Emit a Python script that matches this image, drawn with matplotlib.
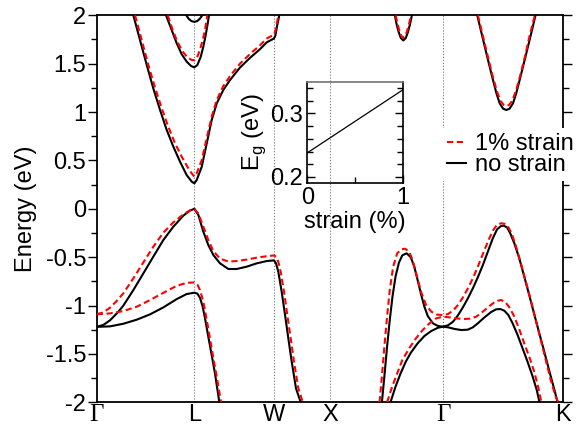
import matplotlib
matplotlib.use('Agg')
import matplotlib.pyplot as plt
from matplotlib.lines import Line2D
from matplotlib.ticker import MultipleLocator, FixedLocator

plt.rcParams['font.family'] = ['Liberation Sans', 'DejaVu Sans']
plt.rcParams['axes.unicode_minus'] = False
plt.rcParams['mathtext.fontset'] = 'custom'
plt.rcParams['mathtext.rm'] = 'Liberation Sans'

FS = 17

# high symmetry points along the path (units of 2pi/a)
kpt_pos = [0.0, 0.866, 1.573, 2.073, 3.073, 4.134]
kpt_labels = ['Γ', 'L', 'W', 'X', 'Γ', 'K']

yticks = [-2, -1.5, -1, -0.5, 0, 0.5, 1, 1.5, 2]
ytick_labels = ['-2', '-1.5', '-1', '-0.5', '0', '0.5', '1', '1.5', '2']

# ---- no strain (black) ----
# top valence band  G -> L -> W -> X
k_vb1 = [0.0, 0.059, 0.118, 0.192, 0.236, 0.325, 0.414, 0.502, 0.591, 0.680, 0.768, 0.827, 0.866,
         0.902, 0.946, 0.990, 1.035, 1.094, 1.168, 1.242, 1.331, 1.419, 1.508, 1.573,
         1.591, 1.611, 1.641, 1.671, 1.700, 1.730, 1.768, 1.810]
e_vb1 = [-1.22, -1.20, -1.153, -1.064, -1.001, -0.840, -0.667, -0.495, -0.323, -0.185, -0.071, -0.019, 0.0,
         -0.064, -0.237, -0.374, -0.478, -0.564, -0.622, -0.622, -0.598, -0.564, -0.540, -0.533,
         -0.564, -0.650, -0.857, -1.098, -1.339, -1.580, -1.856, -2.0]
# second valence band  G -> L -> down
k_vb2 = [0.0, 0.118, 0.236, 0.355, 0.473, 0.591, 0.710, 0.798, 0.866,
         0.893, 0.916, 0.940, 0.961, 0.990, 1.020, 1.049, 1.088]
e_vb2 = [-1.22, -1.215, -1.188, -1.146, -1.091, -1.019, -0.933, -0.881, -0.867,
         -0.877, -0.919, -1.011, -1.132, -1.322, -1.511, -1.700, -2.0]
# X - G - K valence bands
k_vb3 = [2.530, 2.552, 2.576, 2.600, 2.624, 2.651, 2.681, 2.711, 2.750, 2.787, 2.817, 2.847, 2.877,
         2.907, 2.937, 2.983, 3.028, 3.073, 3.117, 3.161, 3.205, 3.249, 3.293, 3.337, 3.381, 3.426,
         3.470, 3.514, 3.552, 3.587, 3.611, 3.640, 3.669, 3.705, 3.749, 3.793, 3.837, 3.881, 3.925,
         3.969, 4.013, 4.057, 4.089]
e_vb3 = [-2.0, -1.735, -1.425, -1.149, -0.908, -0.701, -0.557, -0.481, -0.460, -0.502, -0.598, -0.736,
         -0.881, -1.012, -1.108, -1.184, -1.211, -1.218, -1.204, -1.167, -1.101, -1.018, -0.925, -0.822,
         -0.708, -0.581, -0.443, -0.305, -0.212, -0.178, -0.174, -0.192, -0.254, -0.357, -0.512, -0.701,
         -0.891, -1.087, -1.280, -1.470, -1.666, -1.856, -2.0]
k_vb4 = [2.606, 2.651, 2.696, 2.742, 2.787, 2.847, 2.907, 2.968, 3.028, 3.073, 3.117, 3.176, 3.235,
         3.293, 3.337, 3.381, 3.440, 3.499, 3.543, 3.581, 3.616, 3.652, 3.690, 3.734, 3.778, 3.822,
         3.866, 3.904, 3.928]
e_vb4 = [-2.0, -1.838, -1.701, -1.580, -1.487, -1.391, -1.315, -1.263, -1.229, -1.218, -1.225, -1.242,
         -1.253, -1.249, -1.225, -1.184, -1.122, -1.067, -1.039, -1.036, -1.053, -1.098, -1.184, -1.304,
         -1.442, -1.580, -1.728, -1.873, -2.0]
# conduction bands
k_cb1 = [0.325, 0.384, 0.444, 0.502, 0.562, 0.621, 0.680, 0.739, 0.798, 0.843, 0.866,
         0.887, 0.932, 0.976, 1.020, 1.065, 1.123, 1.183, 1.271, 1.360, 1.449, 1.508, 1.573,
         1.585, 1.602, 1.620]
e_cb1 = [2.0, 1.745, 1.486, 1.245, 1.021, 0.815, 0.642, 0.487, 0.349, 0.281, 0.263,
         0.297, 0.435, 0.676, 0.917, 1.090, 1.228, 1.331, 1.46, 1.56, 1.65, 1.72, 1.76,
         1.79, 1.90, 2.0]
k_cb2 = [0.615, 0.665, 0.710, 0.754, 0.798, 0.837, 0.866, 0.893, 0.923, 0.946, 0.967, 0.985, 0.996]
e_cb2 = [2.0, 1.848, 1.710, 1.597, 1.521, 1.476, 1.462, 1.486, 1.572, 1.676, 1.796, 1.917, 2.0]
k_cb3 = [0.795, 0.815, 0.840, 0.866, 0.892, 0.915, 0.937]
e_cb3 = [2.0, 1.965, 1.94, 1.932, 1.94, 1.965, 2.0]
k_cb4 = [2.645, 2.660, 2.678, 2.698, 2.720, 2.742, 2.762, 2.780, 2.796]
e_cb4 = [2.0, 1.91, 1.83, 1.765, 1.74, 1.765, 1.83, 1.91, 2.0]
k_cb5 = [3.376, 3.420, 3.464, 3.508, 3.546, 3.575, 3.605, 3.634, 3.663, 3.693, 3.722, 3.760, 3.804, 3.849, 3.893]
e_cb5 = [2.0, 1.786, 1.573, 1.366, 1.194, 1.090, 1.035, 1.021, 1.035, 1.090, 1.194, 1.366, 1.573, 1.786, 2.0]

# ---- 1% strain (red dashed) ----
ks_vb1 = [0.0, 0.059, 0.118, 0.177, 0.236, 0.325, 0.414, 0.502, 0.591, 0.680, 0.768, 0.827, 0.866,
          0.902, 0.946, 0.990, 1.035, 1.094, 1.168, 1.242, 1.331, 1.419, 1.508, 1.573,
          1.591, 1.611, 1.632, 1.662, 1.691, 1.721, 1.750, 1.789, 1.829]
es_vb1 = [-1.09, -1.070, -1.022, -0.953, -0.874, -0.719, -0.554, -0.392, -0.247, -0.140, -0.058, -0.016, 0.0,
          -0.050, -0.185, -0.323, -0.437, -0.515, -0.545, -0.540, -0.525, -0.505, -0.490, -0.482,
          -0.495, -0.547, -0.650, -0.857, -1.098, -1.339, -1.580, -1.856, -2.0]
ks_vb2 = [0.0, 0.118, 0.236, 0.355, 0.473, 0.591, 0.710, 0.798, 0.866,
          0.893, 0.916, 0.946, 0.976, 1.005, 1.035, 1.065, 1.103]
es_vb2 = [-1.09, -1.081, -1.057, -1.012, -0.943, -0.868, -0.796, -0.765, -0.761,
          -0.781, -0.839, -0.960, -1.149, -1.339, -1.546, -1.735, -2.0]
ks_vb3 = [2.509, 2.530, 2.552, 2.576, 2.600, 2.630, 2.666, 2.702, 2.735, 2.772, 2.802, 2.838, 2.877,
          2.922, 2.968, 3.019, 3.073, 3.117, 3.161, 3.205, 3.249, 3.293, 3.337, 3.381, 3.426, 3.470,
          3.514, 3.552, 3.587, 3.616, 3.646, 3.681, 3.719, 3.763, 3.807, 3.851, 3.895, 3.940, 3.984,
          4.028, 4.072, 4.095]
es_vb3 = [-2.0, -1.735, -1.425, -1.115, -0.839, -0.598, -0.460, -0.419, -0.412, -0.443, -0.529, -0.684,
          -0.857, -0.994, -1.063, -1.094, -1.098, -1.087, -1.053, -0.994, -0.915, -0.822, -0.719, -0.598,
          -0.467, -0.340, -0.226, -0.164, -0.150, -0.154, -0.178, -0.254, -0.385, -0.564, -0.753, -0.943,
          -1.149, -1.356, -1.563, -1.770, -1.942, -2.0]
ks_vb4 = [2.576, 2.621, 2.666, 2.711, 2.772, 2.832, 2.892, 2.952, 3.013, 3.073, 3.132, 3.191, 3.249,
          3.308, 3.367, 3.426, 3.484, 3.543, 3.587, 3.622, 3.661, 3.705, 3.749, 3.793, 3.837, 3.881,
          3.916, 3.945]
es_vb4 = [-2.0, -1.838, -1.701, -1.563, -1.442, -1.339, -1.253, -1.184, -1.132, -1.115, -1.122, -1.132,
          -1.139, -1.136, -1.115, -1.063, -1.005, -0.953, -0.943, -0.960, -1.018, -1.115, -1.246, -1.391,
          -1.528, -1.683, -1.838, -2.0]
ks_cb1 = [0.340, 0.399, 0.458, 0.517, 0.577, 0.635, 0.695, 0.754, 0.813, 0.843, 0.866,
          0.887, 0.932, 0.976, 1.020, 1.065, 1.123, 1.183, 1.271, 1.360, 1.449, 1.508, 1.573,
          1.585, 1.597, 1.612]
es_cb1 = [2.0, 1.745, 1.486, 1.255, 1.038, 0.848, 0.676, 0.539, 0.418, 0.366, 0.332,
          0.366, 0.504, 0.728, 0.952, 1.124, 1.269, 1.372, 1.50, 1.60, 1.69, 1.76, 1.80,
          1.84, 1.91, 2.0]
ks_cb2 = [0.630, 0.674, 0.715, 0.763, 0.804, 0.843, 0.866, 0.887, 0.916, 0.940, 0.961, 0.981]
es_cb2 = [2.0, 1.848, 1.727, 1.624, 1.566, 1.538, 1.535, 1.555, 1.641, 1.745, 1.848, 2.0]
ks_cb4 = [2.652, 2.667, 2.683, 2.701, 2.720, 2.739, 2.757, 2.773, 2.788]
es_cb4 = [2.0, 1.92, 1.85, 1.79, 1.765, 1.79, 1.85, 1.92, 2.0]
ks_cb5 = [3.382, 3.426, 3.470, 3.514, 3.552, 3.581, 3.611, 3.634, 3.658, 3.687, 3.717, 3.755, 3.799, 3.840, 3.887]
es_cb5 = [2.0, 1.786, 1.573, 1.366, 1.211, 1.118, 1.073, 1.062, 1.073, 1.118, 1.211, 1.366, 1.573, 1.786, 2.0]

# inset: band gap vs strain
strain = [0.0, 1.0]
gap = [0.238, 0.337]

bands_none = [(k_vb1, e_vb1), (k_vb2, e_vb2), (k_vb3, e_vb3), (k_vb4, e_vb4),
              (k_cb1, e_cb1), (k_cb2, e_cb2), (k_cb3, e_cb3), (k_cb4, e_cb4), (k_cb5, e_cb5)]
bands_strain = [(ks_vb1, es_vb1), (ks_vb2, es_vb2), (ks_vb3, es_vb3), (ks_vb4, es_vb4),
                (ks_cb1, es_cb1), (ks_cb2, es_cb2), (ks_cb4, es_cb4), (ks_cb5, es_cb5)]

dash = (0, (3.0, 1.7))

fig = plt.figure(figsize=(5.77, 4.28), dpi=100)
ax = fig.add_axes([0.1676, 0.06, 0.8076, 0.9043])

# vertical lines at the inner high-symmetry points
for kp in kpt_pos[1:-1]:
    ax.axvline(kp, color='0.45', ls=':', lw=0.8, zorder=1)

for k, e in bands_none:
    ax.plot(k, e, color='black', lw=1.5, zorder=3)
for k, e in bands_strain:
    ax.plot(k, e, color='red', lw=1.5, ls=dash, zorder=4)

ax.set_xlim(kpt_pos[0], kpt_pos[-1])
ax.set_ylim(-2, 2)
ax.set_xticks(kpt_pos)
ax.set_xticklabels(kpt_labels, fontsize=FS)
for lab in ax.get_xticklabels():
    if lab.get_text() == 'Γ':
        lab.set_family('Liberation Serif')
        lab.set_fontsize(FS + 1)
ax.tick_params(axis='x', length=0, pad=1)
ax.set_yticks(yticks)
ax.set_yticklabels(ytick_labels, fontsize=FS)
ax.yaxis.set_minor_locator(MultipleLocator(0.25))
ax.tick_params(axis='y', which='both', direction='out', left=True, right=True, pad=1)
ax.tick_params(axis='y', which='major', length=6.5, width=1.0)
ax.tick_params(axis='y', which='minor', length=4.5, width=1.0)
ax.set_ylabel('Energy (eV)', fontsize=FS, labelpad=6)
for sp in ax.spines.values():
    sp.set_linewidth(1.3)

handles = [Line2D([], [], color='red', lw=1.5, ls=dash),
           Line2D([], [], color='black', lw=1.5)]
leg = ax.legend(handles, ['1% strain', 'no strain'], loc='upper left',
                bbox_to_anchor=(0.741, 0.708), fontsize=FS, frameon=True,
                fancybox=False, edgecolor='none', facecolor='white', framealpha=1,
                borderaxespad=0, borderpad=0.2, handlelength=0.8, handletextpad=0.4,
                labelspacing=-0.05)
leg.set_zorder(10)

# inset
axin = fig.add_axes([0.5326, 0.5717, 0.1653, 0.2374])
axin.patch.set_alpha(0)
axin.plot(strain, gap, color='black', lw=0.9)
axin.set_xlim(0, 1)
axin.set_ylim(0.19, 0.35)
axin.set_xticks([0, 1])
axin.set_xticklabels(['0', '1'], fontsize=FS)
axin.xaxis.set_minor_locator(FixedLocator([0.5]))
axin.set_yticks([0.2, 0.3])
axin.set_yticklabels(['0.2', '0.3'], fontsize=FS)
axin.yaxis.set_minor_locator(MultipleLocator(0.02))
axin.tick_params(which='both', direction='in', left=True, right=True, top=False, bottom=True)
axin.tick_params(which='major', length=6, width=1.0, pad=3)
axin.tick_params(which='minor', length=4, width=1.0)
axin.set_xlabel('strain (%)', fontsize=FS, labelpad=1)
axin.set_ylabel(r'E$_\mathrm{g}$ (eV)', fontsize=FS, labelpad=2)
for sp in axin.spines.values():
    sp.set_linewidth(1.2)
axin.spines['top'].set_color('0.45')

fig.savefig('out.png', dpi=100)
